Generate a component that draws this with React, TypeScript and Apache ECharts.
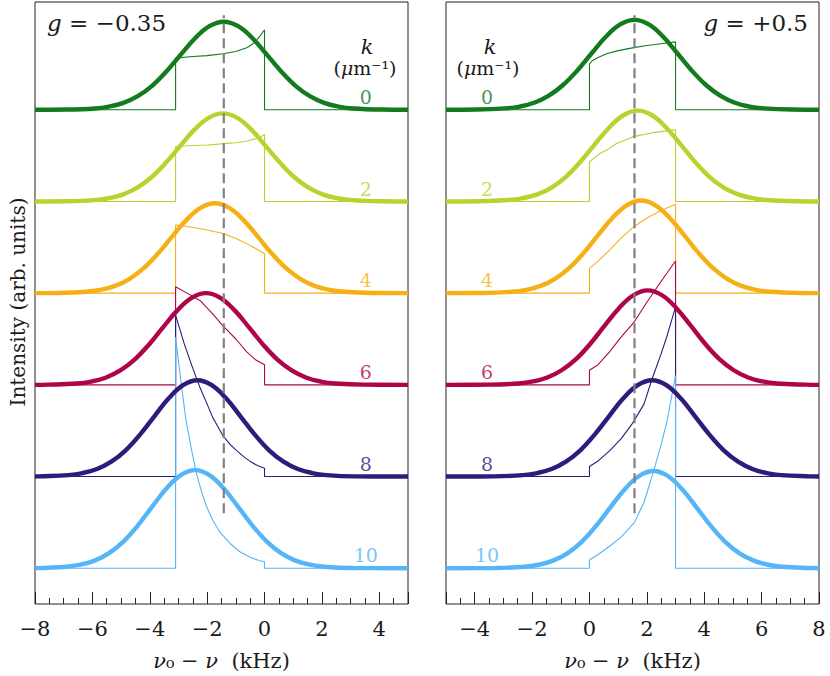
import React, { useEffect, useRef } from "react";
import * as echarts from "echarts";

const FONT = "DejaVu Serif";
const TEXT = "#1a1a1a";

const kValues = [0, 2, 4, 6, 8, 10];
const colors = ["#137a1e", "#b6d32e", "#f5b016", "#ae0449", "#2e1b7b", "#55b5f7"];

// Left panel (g = -0.35): broadened spectra (thick)
const leftThick: number[][][] = [
  [[-8,0],[-6.92,0.002],[-5.92,0.014],[-5.42,0.035],[-4.92,0.075],[-4.42,0.148],[-3.92,0.261],[-3.42,0.418],[-2.92,0.601],[-2.42,0.78],[-1.92,0.911],[-1.42,0.96],[-0.92,0.911],[-0.42,0.78],[0.08,0.601],[0.58,0.418],[1.08,0.261],[1.58,0.148],[2.08,0.075],[2.58,0.035],[3.08,0.014],[4.08,0.002],[5,0]],
  [[-8,0],[-6.95,0.002],[-5.95,0.014],[-5.45,0.035],[-4.95,0.075],[-4.45,0.148],[-3.95,0.261],[-3.45,0.418],[-2.95,0.601],[-2.45,0.78],[-1.95,0.911],[-1.45,0.96],[-0.95,0.911],[-0.45,0.78],[0.05,0.601],[0.55,0.418],[1.05,0.261],[1.55,0.148],[2.05,0.075],[2.55,0.035],[3.05,0.014],[4.05,0.002],[5,0]],
  [[-8,0],[-7.23,0.002],[-6.23,0.015],[-5.73,0.035],[-5.23,0.076],[-4.73,0.151],[-4.23,0.267],[-3.73,0.426],[-3.23,0.613],[-2.73,0.796],[-2.23,0.93],[-1.73,0.98],[-1.23,0.93],[-0.73,0.796],[-0.23,0.613],[0.27,0.426],[0.77,0.267],[1.27,0.151],[1.77,0.076],[2.27,0.035],[2.77,0.015],[3.77,0.002],[5,0]],
  [[-8,0],[-7.54,0.002],[-6.54,0.015],[-6.04,0.036],[-5.54,0.078],[-5.04,0.154],[-4.54,0.272],[-4.04,0.435],[-3.54,0.626],[-3.04,0.812],[-2.54,0.949],[-2.04,1.0],[-1.54,0.949],[-1.04,0.812],[-0.54,0.626],[-0.04,0.435],[0.46,0.272],[0.96,0.154],[1.46,0.078],[1.96,0.036],[2.46,0.015],[3.46,0.002],[5,0]],
  [[-8,0],[-7.84,0.002],[-6.84,0.016],[-6.34,0.038],[-5.84,0.082],[-5.34,0.162],[-4.84,0.286],[-4.34,0.457],[-3.84,0.657],[-3.34,0.853],[-2.84,0.996],[-2.34,1.05],[-1.84,0.996],[-1.34,0.853],[-0.84,0.657],[-0.34,0.457],[0.16,0.286],[0.66,0.162],[1.16,0.082],[1.66,0.038],[2.16,0.016],[3.16,0.002],[5,0]],
  [[-8,0.001],[-6.92,0.016],[-6.42,0.039],[-5.92,0.083],[-5.42,0.165],[-4.92,0.291],[-4.42,0.465],[-3.92,0.67],[-3.42,0.869],[-2.92,1.015],[-2.42,1.07],[-1.92,1.015],[-1.42,0.869],[-0.92,0.67],[-0.42,0.465],[0.08,0.291],[0.58,0.165],[1.08,0.083],[1.58,0.039],[2.08,0.016],[3.08,0.002],[5,0]],
];

// Left panel: unbroadened distributions (thin)
const leftThin: number[][][] = [
  [[-8,0],[-3.1,0],[-3.1,0.563],[-2.5,0.58],[-2,0.59],[-1.44,0.61],[-1,0.635],[-0.62,0.676],[-0.4,0.72],[-0.27,0.763],[-0.12,0.82],[0,0.872],[0,0],[5,0]],
  [[-8,0],[-3.1,0],[-3.1,0.6],[-2.5,0.61],[-2,0.615],[-1.5,0.628],[-1,0.64],[-0.6,0.66],[-0.3,0.685],[-0.1,0.71],[0,0.73],[0,0],[5,0]],
  [[-8,0],[-3.1,0],[-3.1,0.742],[-2.89,0.735],[-2.25,0.705],[-1.44,0.65],[-1,0.597],[-0.62,0.54],[-0.3,0.485],[0,0.43],[0,0],[5,0]],
  [[-8,0],[-3.1,0],[-3.1,1.07],[-2.7,1.0],[-2.25,0.92],[-1.8,0.77],[-1.44,0.64],[-1,0.5],[-0.62,0.36],[-0.3,0.27],[0,0.22],[0,0],[5,0]],
  [[-8,0],[-3.1,0],[-3.1,1.76],[-2.8,1.45],[-2.5,1.18],[-2.25,0.97],[-2,0.79],[-1.8,0.64],[-1.6,0.53],[-1.44,0.44],[-1.2,0.35],[-1,0.29],[-0.74,0.22],[-0.5,0.165],[-0.25,0.12],[0,0.09],[0,0],[5,0]],
  [[-8,0],[-3.1,0],[-3.1,2.52],[-2.9,2.0],[-2.74,1.62],[-2.55,1.3],[-2.37,1.03],[-2.2,0.84],[-2.02,0.67],[-1.8,0.52],[-1.55,0.39],[-1.2,0.27],[-0.86,0.18],[-0.5,0.12],[-0.2,0.085],[0,0.07],[0,0],[5,0]],
];

// Right panel (g = +0.5): broadened spectra (thick)
const rightThick: number[][][] = [
  [[-5,0],[-3.93,0.002],[-2.93,0.015],[-2.43,0.035],[-1.93,0.076],[-1.43,0.151],[-0.93,0.267],[-0.43,0.426],[0.07,0.613],[0.57,0.796],[1.07,0.93],[1.57,0.98],[2.07,0.93],[2.57,0.796],[3.07,0.613],[3.57,0.426],[4.07,0.267],[4.57,0.151],[5.07,0.076],[5.57,0.035],[6.07,0.015],[7.07,0.002],[8,0]],
  [[-5,0],[-3.82,0.002],[-2.82,0.015],[-2.32,0.036],[-1.82,0.077],[-1.32,0.152],[-0.82,0.269],[-0.32,0.431],[0.18,0.62],[0.68,0.804],[1.18,0.94],[1.68,0.99],[2.18,0.94],[2.68,0.804],[3.18,0.62],[3.68,0.431],[4.18,0.269],[4.68,0.152],[5.18,0.077],[5.68,0.036],[6.18,0.015],[7.18,0.002],[8,0]],
  [[-5,0],[-3.7,0.002],[-2.7,0.015],[-2.2,0.036],[-1.7,0.079],[-1.2,0.156],[-0.7,0.275],[-0.2,0.439],[0.3,0.632],[0.8,0.82],[1.3,0.958],[1.8,1.01],[2.3,0.958],[2.8,0.82],[3.3,0.632],[3.8,0.439],[4.3,0.275],[4.8,0.156],[5.3,0.079],[5.8,0.036],[6.3,0.015],[7.3,0.002],[8,0]],
  [[-5,0],[-3.47,0.002],[-2.47,0.015],[-1.97,0.037],[-1.47,0.08],[-0.97,0.159],[-0.47,0.28],[0.03,0.448],[0.53,0.645],[1.03,0.836],[1.53,0.977],[2.03,1.03],[2.53,0.977],[3.03,0.836],[3.53,0.645],[4.03,0.448],[4.53,0.28],[5.03,0.159],[5.53,0.08],[6.03,0.037],[6.53,0.015],[7.53,0.002],[8,0]],
  [[-5,0],[-3.32,0.002],[-2.32,0.016],[-1.82,0.038],[-1.32,0.082],[-0.82,0.162],[-0.32,0.286],[0.18,0.457],[0.68,0.657],[1.18,0.853],[1.68,0.996],[2.18,1.05],[2.68,0.996],[3.18,0.853],[3.68,0.657],[4.18,0.457],[4.68,0.286],[5.18,0.162],[5.68,0.082],[6.18,0.038],[6.68,0.016],[7.68,0.002],[8,0]],
  [[-5,0],[-3.27,0.002],[-2.27,0.016],[-1.77,0.038],[-1.27,0.083],[-0.77,0.163],[-0.27,0.288],[0.23,0.461],[0.73,0.664],[1.23,0.861],[1.73,1.006],[2.23,1.06],[2.73,1.006],[3.23,0.861],[3.73,0.664],[4.23,0.461],[4.73,0.288],[5.23,0.163],[5.73,0.083],[6.23,0.038],[6.73,0.016],[7.73,0.002],[8,0]],
];

// Right panel: unbroadened distributions (thin)
const rightThin: number[][][] = [
  [[-5,0],[0,0],[0,0.5],[0.1,0.535],[0.3,0.57],[0.6,0.61],[1,0.645],[1.5,0.675],[2,0.7],[2.5,0.72],[3,0.74],[3,0],[8,0]],
  [[-5,0],[0,0],[0,0.43],[0.15,0.47],[0.35,0.52],[0.6,0.56],[0.93,0.63],[1.25,0.67],[1.57,0.71],[2.2,0.75],[3,0.78],[3,0],[8,0]],
  [[-5,0],[0,0],[0,0.27],[0.3,0.35],[0.7,0.47],[1.1,0.6],[1.57,0.73],[2,0.82],[2.5,0.9],[3,0.97],[3,0],[8,0]],
  [[-5,0],[0,0],[0,0.16],[0.3,0.22],[0.7,0.36],[1.1,0.52],[1.57,0.69],[2,0.9],[2.5,1.13],[3,1.35],[3,0],[8,0]],
  [[-5,0],[0,0],[0,0.11],[0.3,0.17],[0.7,0.28],[1.1,0.41],[1.5,0.58],[1.9,0.79],[2.2,1.08],[2.5,1.34],[2.7,1.53],[2.85,1.69],[3,1.85],[3,0],[8,0]],
  [[-5,0],[0,0],[0,0.09],[0.3,0.15],[0.7,0.24],[1.1,0.34],[1.57,0.5],[1.9,0.72],[2.2,1.02],[2.5,1.35],[2.7,1.6],[2.85,1.85],[3,2.1],[3,0],[8,0]],
];

// vertical dashed reference lines
const dashX = [-1.42, 1.57];
const dashSpan = [0.6, 6.03];

// x-axis ranges
const xRanges = [[-8, 5], [-5, 8]];
// curve-label x position per panel (data units)
const labelX = [3.53, -3.57];
const labelLift = 0.14;

const minus = (v: number) => (v < 0 ? "\u2212" + Math.abs(v) : String(v));

export default function App() {
  const ref = useRef<HTMLDivElement>(null);
  useEffect(() => {
    const chart = echarts.init(ref.current!, undefined, { renderer: "svg" });
    const panels = [
      { thin: leftThin, thick: leftThick },
      { thin: rightThin, thick: rightThick },
    ];
    const nCurves = kValues.length;
    const series: any[] = [];
    panels.forEach((p, gi) => {
      kValues.forEach((k, i) => {
        const off = nCurves - 1 - i;
        series.push({
          type: "line",
          xAxisIndex: gi,
          yAxisIndex: gi,
          data: p.thin[i].map(([x, y]) => [x, y + off]),
          symbol: "none",
          silent: true,
          lineStyle: { color: colors[i], width: 1.1 },
          z: 2,
        });
        series.push({
          type: "line",
          xAxisIndex: gi,
          yAxisIndex: gi,
          data: p.thick[i].map(([x, y]) => [x, y + off]),
          symbol: "none",
          smooth: 0.4,
          silent: true,
          lineStyle: { color: colors[i], width: 4.4 },
          z: 3,
        });
      });
      series.push({
        type: "line",
        xAxisIndex: gi,
        yAxisIndex: gi,
        data: [[dashX[gi], dashSpan[0]], [dashX[gi], dashSpan[1]]],
        symbol: "none",
        silent: true,
        lineStyle: { color: "#808080", width: 2.2, type: [10, 5] },
        z: 4,
      });
      series.push({
        type: "scatter",
        xAxisIndex: gi,
        yAxisIndex: gi,
        symbolSize: 1,
        silent: true,
        itemStyle: { color: "transparent" },
        data: kValues.map((k, i) => ({
          value: [labelX[gi], nCurves - 1 - i + labelLift],
          label: { color: colors[i] },
        })),
        label: {
          show: true,
          position: "inside",
          fontSize: 19,
          fontFamily: FONT,
          formatter: (d: any) => String(kValues[d.dataIndex]),
        },
        z: 5,
      });
    });

    const xAxisBase = (gi: number) => ({
      gridIndex: gi,
      type: "value",
      min: xRanges[gi][0],
      max: xRanges[gi][1],
      splitNumber: 6,
      minInterval: 2,
      maxInterval: 2,
      axisLine: { show: false, onZero: false },
      splitLine: { show: false },
      axisTick: { show: true, inside: true, length: 12, lineStyle: { color: "#222", width: 1 } },
      minorTick: { show: true, splitNumber: 4, length: 6, lineStyle: { color: "#222", width: 1 } },
      minorSplitLine: { show: false },
      axisLabel: {
        show: true,
        margin: 14,
        fontSize: 21,
        fontFamily: FONT,
        color: TEXT,
        formatter: minus,
        showMinLabel: gi === 0,
        showMaxLabel: gi === 1,
      },
      name: "{i|\u03bd}\u2080 \u2212 {i|\u03bd}  (kHz)",
      nameLocation: "middle",
      nameGap: 46,
      nameTextStyle: {
        fontSize: 21,
        fontFamily: FONT,
        color: TEXT,
        rich: { i: { fontStyle: "italic", fontSize: 21, fontFamily: FONT, color: TEXT } },
      },
    });

    const yAxisBase = (gi: number) => ({
      gridIndex: gi,
      type: "value",
      min: -0.39,
      max: 6.175,
      show: false,
    });

    const option: any = {
      animation: false,
      textStyle: { fontFamily: FONT },
      grid: [
        { left: 35, top: 2, width: 373, height: 602, show: true, borderColor: "#222", borderWidth: 1 },
        { left: 446, top: 2, width: 373, height: 602, show: true, borderColor: "#222", borderWidth: 1 },
      ],
      xAxis: [xAxisBase(0), xAxisBase(1)],
      yAxis: [yAxisBase(0), yAxisBase(1)],
      series,
      graphic: [
        {
          type: "text",
          x: 18,
          y: 302,
          rotation: Math.PI / 2,
          style: {
            text: "Intensity (arb. units)",
            fontSize: 20,
            fontFamily: FONT,
            fill: TEXT,
            align: "center",
            verticalAlign: "middle",
          },
        },
        {
          type: "text",
          x: 47,
          y: 23,
          style: {
            text: "{i|g} = \u22120.35",
            fontSize: 23,
            fontFamily: FONT,
            fill: TEXT,
            align: "left",
            verticalAlign: "middle",
            rich: { i: { fontStyle: "italic", fontSize: 23, fontFamily: FONT, fill: TEXT } },
          },
        },
        {
          type: "text",
          x: 808,
          y: 23,
          style: {
            text: "{i|g} = +0.5",
            fontSize: 23,
            fontFamily: FONT,
            fill: TEXT,
            align: "right",
            verticalAlign: "middle",
            rich: { i: { fontStyle: "italic", fontSize: 23, fontFamily: FONT, fill: TEXT } },
          },
        },
        ...[367, 490].map((x) => ({
          type: "text",
          x,
          y: 47,
          style: {
            text: "k",
            fontSize: 21,
            fontStyle: "italic",
            fontFamily: FONT,
            fill: TEXT,
            align: "center",
            verticalAlign: "middle",
          },
        })),
        ...[365, 488].map((x) => ({
          type: "text",
          x,
          y: 68,
          style: {
            text: "({i|\u03bc}m\u207b\u00b9)",
            fontSize: 19,
            fontFamily: FONT,
            fill: TEXT,
            align: "center",
            verticalAlign: "middle",
            rich: { i: { fontStyle: "italic", fontSize: 19, fontFamily: FONT, fill: TEXT } },
          },
        })),
      ],
    };
    chart.setOption(option);
    return () => chart.dispose();
  }, []);
  return (
    <div
      ref={ref}
      style={{ position: "fixed", left: 0, top: 0, width: 830, height: 676, background: "#fff" }}
    />
  );
}
